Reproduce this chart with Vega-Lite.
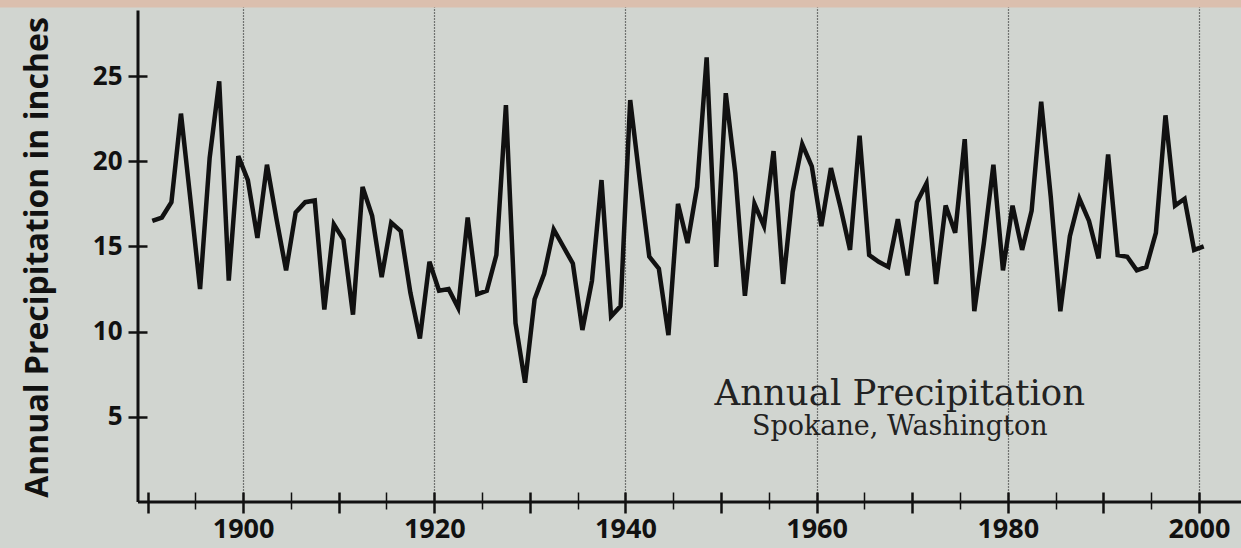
{
  "$schema": "https://vega.github.io/schema/vega-lite/v6.json",
  "autosize": "none",
  "padding": {"left": 138, "top": 0, "right": 0, "bottom": 46},
  "width": 1103,
  "height": 502,
  "background": "#d1d5d0",
  "config": {"view": {"stroke": null}},
  "layer": [
    {
      "data": {"values": [{}]},
      "mark": {"type": "rect", "color": "#dbbfae", "clip": false},
      "encoding": {
        "x": {"datum": {"year": 1874, "month": 1, "date": 1, "utc": true}, "type": "temporal"},
        "x2": {"datum": {"year": 2010, "month": 1, "date": 1, "utc": true}},
        "y": {"datum": 29.03, "type": "quantitative"},
        "y2": {"datum": 29.47}
      }
    },
    {
      "data": {"values": [
        {"date": "1890-07-01", "precip": 16.5},
        {"date": "1891-07-01", "precip": 16.7},
        {"date": "1892-07-01", "precip": 17.6},
        {"date": "1893-07-01", "precip": 22.8},
        {"date": "1894-07-01", "precip": 17.7},
        {"date": "1895-07-01", "precip": 12.5},
        {"date": "1896-07-01", "precip": 20.2},
        {"date": "1897-07-01", "precip": 24.7},
        {"date": "1898-07-01", "precip": 13.0},
        {"date": "1899-07-01", "precip": 20.3},
        {"date": "1900-07-01", "precip": 18.9},
        {"date": "1901-07-01", "precip": 15.5},
        {"date": "1902-07-01", "precip": 19.8},
        {"date": "1903-07-01", "precip": 16.6},
        {"date": "1904-07-01", "precip": 13.6},
        {"date": "1905-07-01", "precip": 17.0},
        {"date": "1906-07-01", "precip": 17.6},
        {"date": "1907-07-01", "precip": 17.7},
        {"date": "1908-07-01", "precip": 11.3},
        {"date": "1909-07-01", "precip": 16.3},
        {"date": "1910-07-01", "precip": 15.4},
        {"date": "1911-07-01", "precip": 11.0},
        {"date": "1912-07-01", "precip": 18.5},
        {"date": "1913-07-01", "precip": 16.8},
        {"date": "1914-07-01", "precip": 13.2},
        {"date": "1915-07-01", "precip": 16.4},
        {"date": "1916-07-01", "precip": 15.9},
        {"date": "1917-07-01", "precip": 12.3},
        {"date": "1918-07-01", "precip": 9.6},
        {"date": "1919-07-01", "precip": 14.1},
        {"date": "1920-07-01", "precip": 12.4},
        {"date": "1921-07-01", "precip": 12.5},
        {"date": "1922-07-01", "precip": 11.4},
        {"date": "1923-07-01", "precip": 16.7},
        {"date": "1924-07-01", "precip": 12.2},
        {"date": "1925-07-01", "precip": 12.4},
        {"date": "1926-07-01", "precip": 14.5},
        {"date": "1927-07-01", "precip": 23.3},
        {"date": "1928-07-01", "precip": 10.5},
        {"date": "1929-07-01", "precip": 7.0},
        {"date": "1930-07-01", "precip": 11.9},
        {"date": "1931-07-01", "precip": 13.4},
        {"date": "1932-07-01", "precip": 16.0},
        {"date": "1933-07-01", "precip": 15.0},
        {"date": "1934-07-01", "precip": 14.0},
        {"date": "1935-07-01", "precip": 10.1},
        {"date": "1936-07-01", "precip": 13.0},
        {"date": "1937-07-01", "precip": 18.9},
        {"date": "1938-07-01", "precip": 10.9},
        {"date": "1939-07-01", "precip": 11.5},
        {"date": "1940-07-01", "precip": 23.6},
        {"date": "1941-07-01", "precip": 18.9},
        {"date": "1942-07-01", "precip": 14.4},
        {"date": "1943-07-01", "precip": 13.7},
        {"date": "1944-07-01", "precip": 9.8},
        {"date": "1945-07-01", "precip": 17.5},
        {"date": "1946-07-01", "precip": 15.2},
        {"date": "1947-07-01", "precip": 18.5},
        {"date": "1948-07-01", "precip": 26.1},
        {"date": "1949-07-01", "precip": 13.8},
        {"date": "1950-07-01", "precip": 24.0},
        {"date": "1951-07-01", "precip": 19.3},
        {"date": "1952-07-01", "precip": 12.1},
        {"date": "1953-07-01", "precip": 17.5},
        {"date": "1954-07-01", "precip": 16.2},
        {"date": "1955-07-01", "precip": 20.6},
        {"date": "1956-07-01", "precip": 12.8},
        {"date": "1957-07-01", "precip": 18.2},
        {"date": "1958-07-01", "precip": 21.0},
        {"date": "1959-07-01", "precip": 19.7},
        {"date": "1960-07-01", "precip": 16.2},
        {"date": "1961-07-01", "precip": 19.6},
        {"date": "1962-07-01", "precip": 17.3},
        {"date": "1963-07-01", "precip": 14.8},
        {"date": "1964-07-01", "precip": 21.5},
        {"date": "1965-07-01", "precip": 14.5},
        {"date": "1966-07-01", "precip": 14.1},
        {"date": "1967-07-01", "precip": 13.8},
        {"date": "1968-07-01", "precip": 16.6},
        {"date": "1969-07-01", "precip": 13.3},
        {"date": "1970-07-01", "precip": 17.6},
        {"date": "1971-07-01", "precip": 18.7},
        {"date": "1972-07-01", "precip": 12.8},
        {"date": "1973-07-01", "precip": 17.4},
        {"date": "1974-07-01", "precip": 15.8},
        {"date": "1975-07-01", "precip": 21.3},
        {"date": "1976-07-01", "precip": 11.2},
        {"date": "1977-07-01", "precip": 15.2},
        {"date": "1978-07-01", "precip": 19.8},
        {"date": "1979-07-01", "precip": 13.6},
        {"date": "1980-07-01", "precip": 17.4},
        {"date": "1981-07-01", "precip": 14.8},
        {"date": "1982-07-01", "precip": 17.1},
        {"date": "1983-07-01", "precip": 23.5},
        {"date": "1984-07-01", "precip": 17.9},
        {"date": "1985-07-01", "precip": 11.2},
        {"date": "1986-07-01", "precip": 15.6},
        {"date": "1987-07-01", "precip": 17.8},
        {"date": "1988-07-01", "precip": 16.5},
        {"date": "1989-07-01", "precip": 14.3},
        {"date": "1990-07-01", "precip": 20.4},
        {"date": "1991-07-01", "precip": 14.5},
        {"date": "1992-07-01", "precip": 14.4},
        {"date": "1993-07-01", "precip": 13.6},
        {"date": "1994-07-01", "precip": 13.8},
        {"date": "1995-07-01", "precip": 15.8},
        {"date": "1996-07-01", "precip": 22.7},
        {"date": "1997-07-01", "precip": 17.4},
        {"date": "1998-07-01", "precip": 17.8},
        {"date": "1999-07-01", "precip": 14.8},
        {"date": "2000-07-01", "precip": 15.0}
      ]},
      "mark": {"type": "line", "color": "#111111", "strokeWidth": 4.5, "strokeJoin": "miter"},
      "encoding": {
        "x": {
          "field": "date",
          "type": "temporal",
          "scale": {
            "type": "utc",
            "domain": [
              {"year": 1889, "month": 1, "date": 1, "utc": true},
              {"year": 2004, "month": 5, "date": 26, "utc": true}
            ]
          },
          "axis": {
            "orient": "bottom",
            "offset": -10,
            "domain": false,
            "grid": true,
            "gridColor": "#111111",
            "gridDash": [1, 2],
            "gridWidth": 1.2,
            "gridOpacity": {"condition": {"test": "utcyear(datum.value) % 20 === 0", "value": 1}, "value": 0},
            "tickCount": {"interval": "year", "step": 5},
            "tickColor": "#111111",
            "tickWidth": {"condition": {"test": "utcyear(datum.value) % 10 === 0", "value": 2.5}, "value": 1.5},
            "tickSize": {"condition": {"test": "utcyear(datum.value) % 10 === 0", "value": 21}, "value": 17},
            "labelExpr": "utcyear(datum.value) % 20 === 0 ? utcFormat(datum.value, '%Y') : ''",
            "labelFont": "Open Sans",
            "labelFontWeight": "bold",
            "labelFontSize": 27,
            "labelColor": "#111111",
            "labelPadding": 3,
            "labelFlush": false,
            "labelOverlap": false,
            "title": null
          }
        },
        "y": {
          "field": "precip",
          "type": "quantitative",
          "scale": {"domain": [0, 29.47], "nice": false, "zero": true},
          "axis": {
            "offset": -9,
            "domain": false,
            "grid": false,
            "values": [5, 10, 15, 20, 25],
            "tickSize": 19,
            "tickWidth": 2.5,
            "tickColor": "#111111",
            "labelFont": "Open Sans",
            "labelFontWeight": "bold",
            "labelFontSize": 26,
            "labelColor": "#111111",
            "labelPadding": 6,
            "title": "Annual Precipitation in inches",
            "titleFont": "Open Sans",
            "titleFontWeight": "bold",
            "titleFontSize": 32,
            "titleColor": "#111111",
            "titlePadding": 38,
            "titleY": 257
          }
        }
      }
    },
    {
      "data": {"values": [{}]},
      "mark": {"type": "rule", "color": "#111111", "strokeWidth": 3},
      "encoding": {
        "x": {"datum": {"year": 1889, "month": 1, "date": 1, "utc": true}, "type": "temporal"},
        "y": {"datum": 0, "type": "quantitative"},
        "y2": {"datum": 28.85}
      }
    },
    {
      "data": {"values": [{}]},
      "mark": {"type": "rule", "color": "#111111", "strokeWidth": 3},
      "encoding": {
        "x": {"datum": {"year": 1889, "month": 1, "date": 1, "utc": true}, "type": "temporal"},
        "x2": {"datum": {"year": 2010, "month": 1, "date": 1, "utc": true}},
        "y": {"datum": 0, "type": "quantitative"}
      }
    },
    {
      "data": {"values": [{}]},
      "mark": {"type": "text", "text": "Annual Precipitation", "font": "DejaVu Serif", "fontSize": 35.5, "color": "#222222", "align": "center", "baseline": "alphabetic"},
      "encoding": {
        "x": {"datum": {"year": 1968, "month": 9, "date": 12, "utc": true}, "type": "temporal"},
        "y": {"datum": 5.72, "type": "quantitative"}
      }
    },
    {
      "data": {"values": [{}]},
      "mark": {"type": "text", "text": "Spokane, Washington", "font": "DejaVu Serif", "fontSize": 27, "color": "#222222", "align": "center", "baseline": "alphabetic"},
      "encoding": {
        "x": {"datum": {"year": 1968, "month": 9, "date": 12, "utc": true}, "type": "temporal"},
        "y": {"datum": 3.95, "type": "quantitative"}
      }
    }
  ]
}
